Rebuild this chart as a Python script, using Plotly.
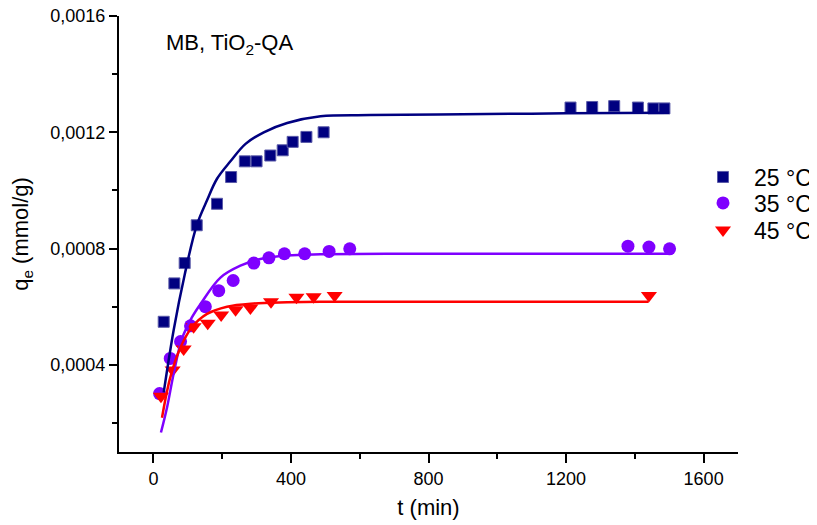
import plotly.graph_objects as go

# Experimental data (t in min, qe in mmol/g)
t25 = [30, 61, 91, 126, 185, 226, 266, 300, 340, 376, 405, 445, 495, 1213, 1276, 1340, 1409, 1454, 1486]
q25 = [0.000548, 0.00068, 0.00075, 0.00088, 0.000954, 0.001046, 0.0011, 0.0011, 0.00112, 0.001138,
       0.001167, 0.001184, 0.0012, 0.001285, 0.001287, 0.00129, 0.001285, 0.001282, 0.001282]

t35 = [18, 49, 79, 108, 151, 190, 232, 292, 336, 381, 440, 511, 571, 1380, 1441, 1501]
q35 = [0.000301, 0.000422, 0.00048, 0.000534, 0.0006, 0.000655, 0.00069, 0.00075, 0.000768, 0.000782,
       0.000782, 0.00079, 0.000799, 0.000808, 0.000805, 0.000799]

t45 = [22, 56, 88, 117, 158, 197, 239, 282, 342, 416, 466, 527, 1441]
q45 = [0.000292, 0.000382, 0.000454, 0.000531, 0.000543, 0.000571, 0.000589, 0.000595, 0.000617,
       0.000632, 0.000634, 0.000638, 0.000638]

# Fitted curves
fit25_t = [30, 59, 91, 126, 156, 185, 224, 268, 321, 389, 486, 631, 900, 1200, 1500]
fit25_q = [0.000305, 0.00052, 0.00071, 0.00088, 0.000966, 0.00104, 0.0011, 0.00116, 0.0012, 0.001232,
           0.001255, 0.001259, 0.001262, 0.001265, 0.001267]

fit35_t = [22, 40, 59, 83, 112, 137, 195, 253, 311, 389, 486, 700, 1000, 1500]
fit35_q = [0.000167, 0.000255, 0.00037, 0.000489, 0.000563, 0.000609, 0.000700, 0.000741, 0.000764,
           0.000776, 0.00078, 0.000782, 0.000782, 0.000782]

fit45_t = [25, 49, 79, 112, 156, 214, 292, 389, 486, 800, 1100, 1440]
fit45_q = [0.000218, 0.000356, 0.00046, 0.000529, 0.000575, 0.0006, 0.000611, 0.000615, 0.000617,
           0.000617, 0.000617, 0.000617]

series_names = ["25 °C", "35 °C", "45 °C"]

x_tickvals = [0, 400, 800, 1200, 1600]
x_ticktext = ["0", "400", "800", "1200", "1600"]
x_minor = [200, 600, 1000, 1400]
y_tickvals = [0.0004, 0.0008, 0.0012, 0.0016]
y_ticktext = ["0,0004", "0,0008", "0,0012", "0,0016"]
y_minor = [0.0002, 0.0006, 0.0010, 0.0014]

NAVY = "#000080"
PURPLE = "#7F00FF"
RED = "#FF0000"
FONT = "Arial, Liberation Sans, sans-serif"

fig = go.Figure()

fig.add_trace(go.Scatter(x=t25, y=q25, mode="markers", name=series_names[0], legend="legend",
                         marker=dict(symbol="square", size=11, color=NAVY,
                                     line=dict(color="#5a5aa8", width=1))))
fig.add_trace(go.Scatter(x=t35, y=q35, mode="markers", name=series_names[1], legend="legend2",
                         marker=dict(symbol="circle", size=13, color=PURPLE, line=dict(width=0))))
fig.add_trace(go.Scatter(x=t45, y=q45, mode="markers", name=series_names[2], legend="legend3",
                         marker=dict(symbol="triangle-down", size=14, color=RED, line=dict(width=0))))

fig.add_trace(go.Scatter(x=fit25_t, y=fit25_q, mode="lines", showlegend=False,
                         line=dict(color=NAVY, width=2.5, shape="spline")))
fig.add_trace(go.Scatter(x=fit35_t, y=fit35_q, mode="lines", showlegend=False,
                         line=dict(color=PURPLE, width=2.5, shape="spline")))
fig.add_trace(go.Scatter(x=fit45_t, y=fit45_q, mode="lines", showlegend=False,
                         line=dict(color=RED, width=2.5, shape="spline")))

axis_common = dict(showline=True, linecolor="black", linewidth=2, ticks="outside",
                   tickcolor="black", tickwidth=2, showgrid=False, zeroline=False,
                   automargin=False, ticklabeloverflow="allow",
                   tickfont=dict(family=FONT, size=18, color="black"))

fig.update_xaxes(range=[-100, 1700], tickmode="array", tickvals=x_tickvals, ticktext=x_ticktext,
                 ticklen=9,
                 minor=dict(tickmode="array", tickvals=x_minor, ticklen=5, tickcolor="black",
                            tickwidth=2, ticks="outside", showgrid=False),
                 title=dict(text="t (min)", font=dict(family=FONT, size=22, color="black"), standoff=12),
                 **axis_common)
fig.update_yaxes(range=[0.0001, 0.0016], tickmode="array", tickvals=y_tickvals, ticktext=y_ticktext,
                 ticklen=8,
                 minor=dict(tickmode="array", tickvals=y_minor, ticklen=5, tickcolor="black",
                            tickwidth=2, ticks="outside", showgrid=False),
                 title=dict(text="q<sub>e</sub> (mmol/g)", font=dict(family=FONT, size=22, color="black"),
                            standoff=16),
                 **axis_common)

fig.add_annotation(text="MB, TiO<sub>2</sub>-QA", xref="paper", yref="paper",
                   x=(164 - 119) / 619, y=1 - (44 - 16) / 436, xanchor="left", yanchor="middle",
                   showarrow=False, font=dict(family=FONT, size=22, color="black"))

# page is rendered with an 8px body offset; margins compensate for it
legend_common = dict(x=(692 - 119) / 619, xanchor="left", yanchor="middle",
                     font=dict(family=FONT, size=23, color="black"),
                     bgcolor="rgba(0,0,0,0)", itemwidth=52)

fig.update_layout(
    width=817, height=525,
    margin=dict(l=111, r=87, t=8, b=81),
    plot_bgcolor="white", paper_bgcolor="white",
    font=dict(family=FONT, color="black"),
    legend=dict(y=1 - (177 - 16) / 436, **legend_common),
    legend2=dict(y=1 - (203 - 16) / 436, **legend_common),
    legend3=dict(y=1 - (230 - 16) / 436, **legend_common),
)

fig.write_html("out.html")
